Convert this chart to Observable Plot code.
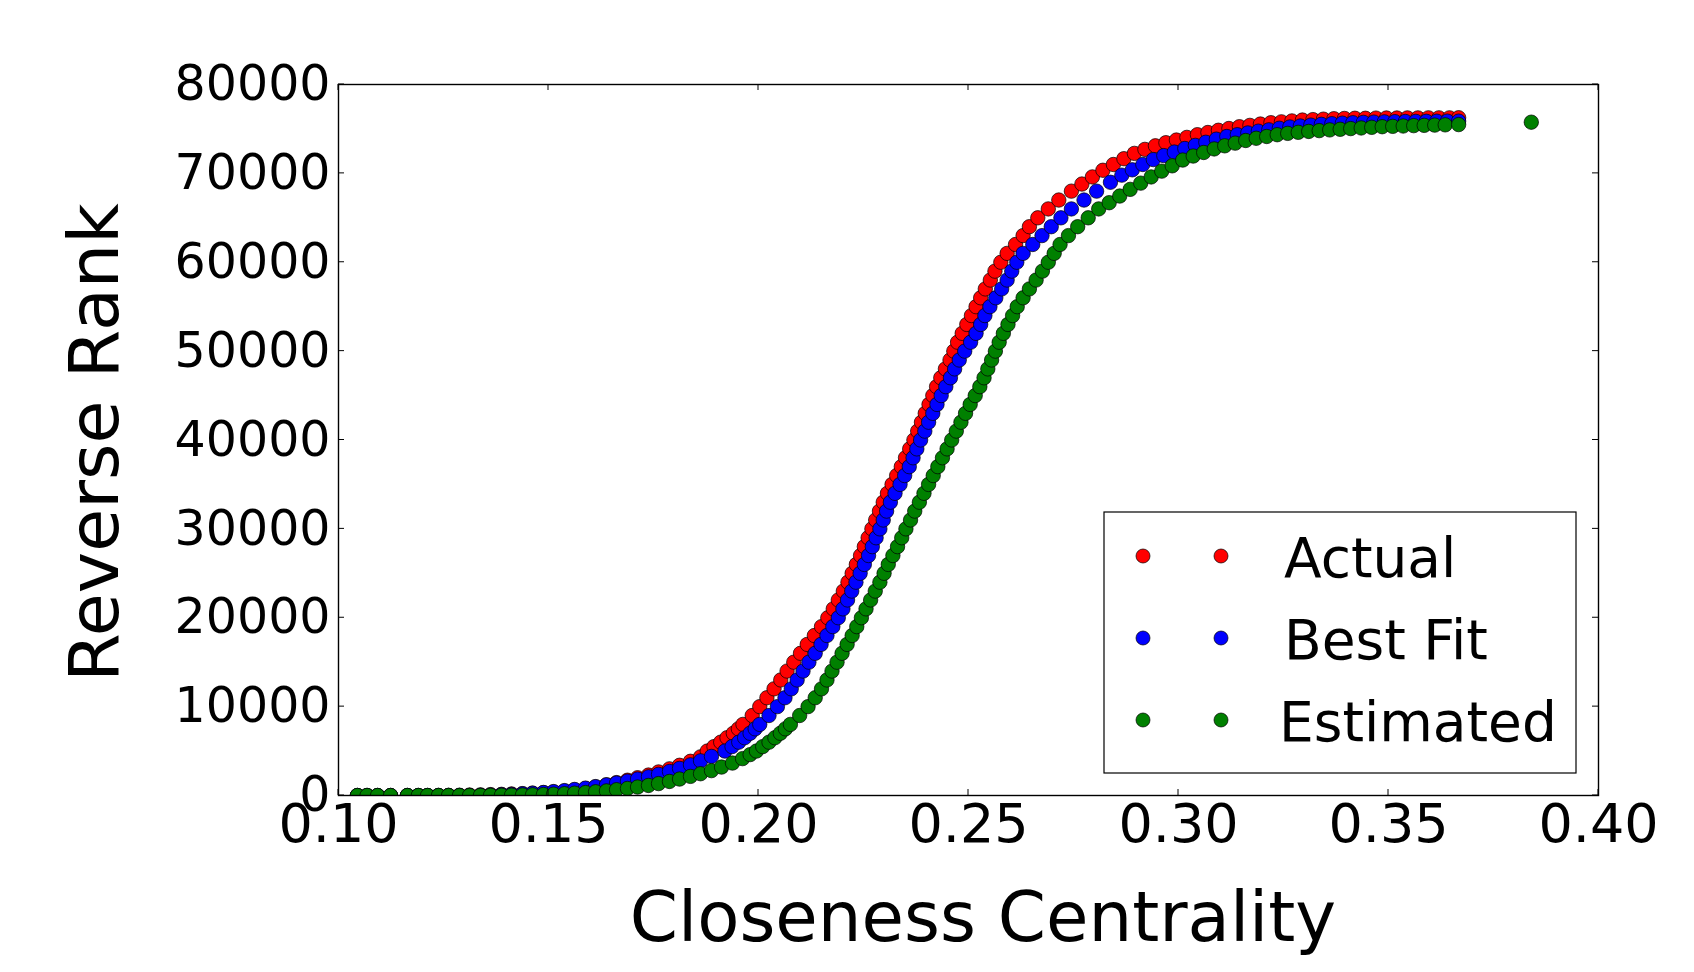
<!DOCTYPE html>
<html><head><meta charset="utf-8">
<script src="https://cdn.jsdelivr.net/npm/d3@7"></script>
<script src="https://cdn.jsdelivr.net/npm/@observablehq/plot@0.6"></script>
<style>html,body{margin:0;padding:0;background:#fff;} #chart{width:1694px;height:972px;}</style>
</head><body><div id="chart"></div>
<script>
const seriesNames = ["Actual", "Best Fit", "Estimated"];
const seriesColors = ["#ff0000", "#0000ff", "#008000"];
const xTicks = [0.10, 0.15, 0.20, 0.25, 0.30, 0.35, 0.40];
const yTicks = [0, 10000, 20000, 30000, 40000, 50000, 60000, 70000, 80000];
const xLabel = "Closeness Centrality";
const yLabel = "Reverse Rank";

const actualPoints = [
[0.1045,0],[0.1068,0],[0.1093,0],[0.1124,0],[0.1164,0],[0.1190,0],[0.1212,0],[0.1238,10],[0.1262,20],[0.1288,30],[0.1312,50],[0.1338,70],[0.1362,100],[0.1388,130],[0.1412,170],[0.1438,210],[0.1462,260],[0.1488,320],[0.1512,400],[0.1538,500],[0.1562,620],[0.1588,780],[0.1612,970],[0.1638,1200],[0.1662,1450],[0.1688,1720],[0.1712,2000],[0.1738,2300],[0.1762,2650],[0.1788,3000],[0.1812,3400],[0.1838,3850],[0.1862,4350],
[0.1878,5000],[0.1894,5500],[0.1910,6000],[0.1925,6500],[0.1940,7000],[0.1952,7500],[0.1963,8000],[0.1985,9000],[0.2003,10000],[0.2020,11000],[0.2037,12000],[0.2053,13000],[0.2068,14000],[0.2084,15000],[0.2100,16000],[0.2116,17000],[0.2133,18000],[0.2150,19000],[0.2165,20000],[0.2178,21000],[0.2190,22000],[0.2202,23000],[0.2213,24000],[0.2223,25000],[0.2233,26000],[0.2243,27000],[0.2252,28000],[0.2261,29000],[0.2270,30000],[0.2279,31000],[0.2288,32000],[0.2297,33000],[0.2307,34000],[0.2318,35000],[0.2329,36000],[0.2340,37000],[0.2350,38000],[0.2360,39000],[0.2370,40000],[0.2379,41000],[0.2388,42000],[0.2397,43000],[0.2406,44000],[0.2415,45000],[0.2424,46000],[0.2434,47000],[0.2445,48000],[0.2456,49000],[0.2465,50000],[0.2474,51000],[0.2485,52000],[0.2496,53000],[0.2507,54000],[0.2518,55000],[0.2529,56000],[0.2540,57000],[0.2552,58000],[0.2563,59000],[0.2577,60000],[0.2592,61000],[0.2612,62000],[0.2630,63000],[0.2645,64000],[0.2665,65000],[0.2690,66000],[0.2715,67000],[0.2745,68000],
[0.2770,68800],[0.2795,69600],[0.2820,70350],[0.2845,71000],[0.2870,71650],[0.2895,72250],[0.2920,72700],[0.2945,73100],[0.2970,73450],[0.2995,73750],[0.3020,74050],[0.3045,74350],[0.3070,74600],[0.3095,74850],[0.3120,75050],[0.3145,75250],[0.3170,75400],[0.3195,75550],[0.3220,75700],[0.3245,75800],[0.3270,75900],[0.3295,76000],[0.3320,76050],[0.3345,76100],[0.3370,76150],[0.3395,76180],[0.3420,76200],[0.3445,76200],[0.3470,76220],[0.3495,76230],[0.3520,76230],[0.3545,76240],[0.3570,76240],[0.3595,76250],[0.3620,76250],[0.3645,76250],[0.3667,76260]
];

const bestFitPoints = [
[0.1045,0],[0.1068,0],[0.1093,0],[0.1124,0],[0.1164,0],[0.1190,0],[0.1212,0],[0.1238,0],[0.1262,0],[0.1288,0],[0.1312,10],[0.1338,30],[0.1362,60],[0.1388,90],[0.1412,130],[0.1438,190],[0.1462,260],[0.1488,340],[0.1512,440],[0.1538,550],[0.1562,680],[0.1588,830],[0.1612,1000],[0.1638,1200],[0.1662,1400],[0.1688,1620],[0.1712,1850],[0.1738,2100],[0.1762,2380],[0.1788,2700],[0.1812,3050],[0.1838,3450],[0.1862,3900],[0.1888,4400],
[0.1920,5000],[0.1937,5500],[0.1953,6000],[0.1967,6500],[0.1980,7000],[0.1992,7500],[0.2003,8000],[0.2025,9000],[0.2045,10000],[0.2063,11000],[0.2078,12000],[0.2092,13000],[0.2106,14000],[0.2120,15000],[0.2135,16000],[0.2149,17000],[0.2163,18000],[0.2177,19000],[0.2190,20000],[0.2201,21000],[0.2212,22000],[0.2222,23000],[0.2232,24000],[0.2242,25000],[0.2252,26000],[0.2262,27000],[0.2271,28000],[0.2280,29000],[0.2289,30000],[0.2297,31000],[0.2305,32000],[0.2314,33000],[0.2325,34000],[0.2337,35000],[0.2348,36000],[0.2359,37000],[0.2368,38000],[0.2377,39000],[0.2386,40000],[0.2396,41000],[0.2405,42000],[0.2415,43000],[0.2425,44000],[0.2435,45000],[0.2446,46000],[0.2457,47000],[0.2467,48000],[0.2478,49000],[0.2491,50000],[0.2505,51000],[0.2518,52000],[0.2529,53000],[0.2539,54000],[0.2551,55000],[0.2565,56000],[0.2579,57000],[0.2592,58000],[0.2603,59000],[0.2615,60000],[0.2630,61000],[0.2653,62000],[0.2675,63000],[0.2697,64000],[0.2720,65000],[0.2745,66000],[0.2775,67000],[0.2805,68000],[0.2838,69000],
[0.2865,69800],[0.2890,70400],[0.2915,71000],[0.2940,71550],[0.2965,72000],[0.2990,72400],[0.3015,72800],[0.3040,73150],[0.3065,73500],[0.3090,73850],[0.3115,74150],[0.3140,74350],[0.3165,74550],[0.3190,74750],[0.3215,74900],[0.3240,75080],[0.3265,75220],[0.3290,75330],[0.3315,75430],[0.3340,75520],[0.3365,75590],[0.3390,75650],[0.3415,75700],[0.3440,75740],[0.3465,75770],[0.3490,75800],[0.3515,75820],[0.3540,75840],[0.3565,75850],[0.3590,75860],[0.3615,75870],[0.3640,75880],[0.3667,75880]
];

const estimatedPoints = [
[0.1045,0],[0.1068,0],[0.1093,0],[0.1124,0],[0.1164,0],[0.1190,0],[0.1212,0],[0.1238,0],[0.1262,0],[0.1288,0],[0.1312,0],[0.1338,10],[0.1362,20],[0.1388,30],[0.1412,40],[0.1438,60],[0.1462,80],[0.1488,110],[0.1512,150],[0.1538,200],[0.1562,260],[0.1588,330],[0.1612,420],[0.1638,520],[0.1662,650],[0.1688,790],[0.1712,950],[0.1738,1130],[0.1762,1340],[0.1788,1580],[0.1812,1850],[0.1838,2150],[0.1862,2450],[0.1888,2800],[0.1912,3200],[0.1938,3650],[0.1962,4150],
[0.1980,4600],[0.1995,5000],[0.2010,5500],[0.2025,6000],[0.2039,6500],[0.2052,7000],[0.2064,7500],[0.2076,8000],[0.2098,9000],[0.2118,10000],[0.2135,11000],[0.2150,12000],[0.2163,13000],[0.2175,14000],[0.2187,15000],[0.2199,16000],[0.2211,17000],[0.2223,18000],[0.2234,19000],[0.2245,20000],[0.2256,21000],[0.2267,22000],[0.2278,23000],[0.2289,24000],[0.2299,25000],[0.2309,26000],[0.2320,27000],[0.2331,28000],[0.2341,29000],[0.2351,30000],[0.2362,31000],[0.2372,32000],[0.2383,33000],[0.2394,34000],[0.2405,35000],[0.2416,36000],[0.2427,37000],[0.2438,38000],[0.2449,39000],[0.2460,40000],[0.2471,41000],[0.2482,42000],[0.2493,43000],[0.2504,44000],[0.2516,45000],[0.2527,46000],[0.2537,47000],[0.2546,48000],[0.2555,49000],[0.2564,50000],[0.2573,51000],[0.2583,52000],[0.2594,53000],[0.2605,54000],[0.2616,55000],[0.2630,56000],[0.2645,57000],[0.2661,58000],[0.2676,59000],[0.2690,60000],[0.2704,61000],[0.2718,62000],[0.2738,63000],[0.2760,64000],[0.2785,65000],[0.2810,66000],
[0.2835,66700],[0.2860,67450],[0.2885,68200],[0.2910,68900],[0.2935,69600],[0.2960,70250],[0.2985,70850],[0.3010,71500],[0.3035,71950],[0.3060,72350],[0.3085,72750],[0.3110,73100],[0.3135,73400],[0.3160,73700],[0.3185,73950],[0.3210,74150],[0.3235,74350],[0.3260,74500],[0.3285,74620],[0.3310,74720],[0.3335,74810],[0.3360,74890],[0.3385,74960],[0.3410,75040],[0.3435,75110],[0.3460,75180],[0.3485,75250],[0.3510,75290],[0.3535,75330],[0.3560,75370],[0.3585,75400],[0.3610,75430],[0.3635,75460],[0.3667,75490],[0.3840,75760]
];

const allSeries = [actualPoints, bestFitPoints, estimatedPoints];
const FONT = "DejaVu Sans";

const dotMarks = allSeries.map((pts, i) => Plot.dot(pts, {
  x: d => d[0], y: d => d[1], r: 7.2,
  fill: seriesColors[i], stroke: "black", strokeWidth: 0.7, clip: true
}));

const plot = Plot.plot({
  width: 1694, height: 972,
  marginLeft: 338, marginRight: 96, marginTop: 84, marginBottom: 177,
  x: {domain: [0.10, 0.40], label: null},
  y: {domain: [0, 80000], label: null},
  style: {fontFamily: FONT, background: "white", color: "black"},
  marks: [
    ...dotMarks,
    Plot.frame({stroke: "black", strokeWidth: 1.4}),
    Plot.axisX(xTicks, {tickSize: 0, tickPadding: 8, tickFormat: d3.format(".2f"), fontSize: 54, label: null, fill: "black"}),
    Plot.axisY(yTicks, {tickSize: 0, tickPadding: 8, tickFormat: d => String(d), fontSize: 49, label: null, fill: "black"})
  ]
});

document.getElementById("chart").appendChild(plot);

const svg = d3.select(plot);
const xs = plot.scale("x"), ys = plot.scale("y");
const [L, R] = xs.range;
const [B, T] = ys.range;
const tickLen = 6;
const tg = svg.append("g").attr("stroke", "black").attr("stroke-width", 1);
for (const v of xTicks) {
  const px = xs.apply(v);
  tg.append("line").attr("x1", px).attr("x2", px).attr("y1", B).attr("y2", B - tickLen);
  tg.append("line").attr("x1", px).attr("x2", px).attr("y1", T).attr("y2", T + tickLen);
}
for (const v of yTicks) {
  const py = ys.apply(v);
  tg.append("line").attr("y1", py).attr("y2", py).attr("x1", L).attr("x2", L + tickLen);
  tg.append("line").attr("y1", py).attr("y2", py).attr("x1", R).attr("x2", R - tickLen);
}

// axis titles
svg.append("text").attr("x", (L + R) / 2 + 15).attr("y", 941)
  .attr("text-anchor", "middle").attr("font-family", FONT).attr("font-size", 69).attr("fill", "black")
  .text(xLabel);
svg.append("text").attr("transform", `translate(118, ${(T + B) / 2 + 3}) rotate(-90)`)
  .attr("text-anchor", "middle").attr("font-family", FONT).attr("font-size", 70).attr("fill", "black")
  .text(yLabel);

// legend
const lg = svg.append("g");
lg.append("rect").attr("x", 1104).attr("y", 512).attr("width", 472).attr("height", 261)
  .attr("fill", "white").attr("stroke", "black").attr("stroke-width", 1.2);
const rowY = [556, 638, 720];
seriesNames.forEach((name, i) => {
  for (const cx of [1143, 1221]) {
    lg.append("circle").attr("cx", cx).attr("cy", rowY[i]).attr("r", 7)
      .attr("fill", seriesColors[i]).attr("stroke", "black").attr("stroke-width", 0.7);
  }
  lg.append("text").attr("x", i === 2 ? 1279 : 1284).attr("y", rowY[i] + 21)
    .attr("text-anchor", "start")
    .attr("font-family", FONT).attr("font-size", 55).attr("fill", "black").text(name);
});
</script></body></html>
